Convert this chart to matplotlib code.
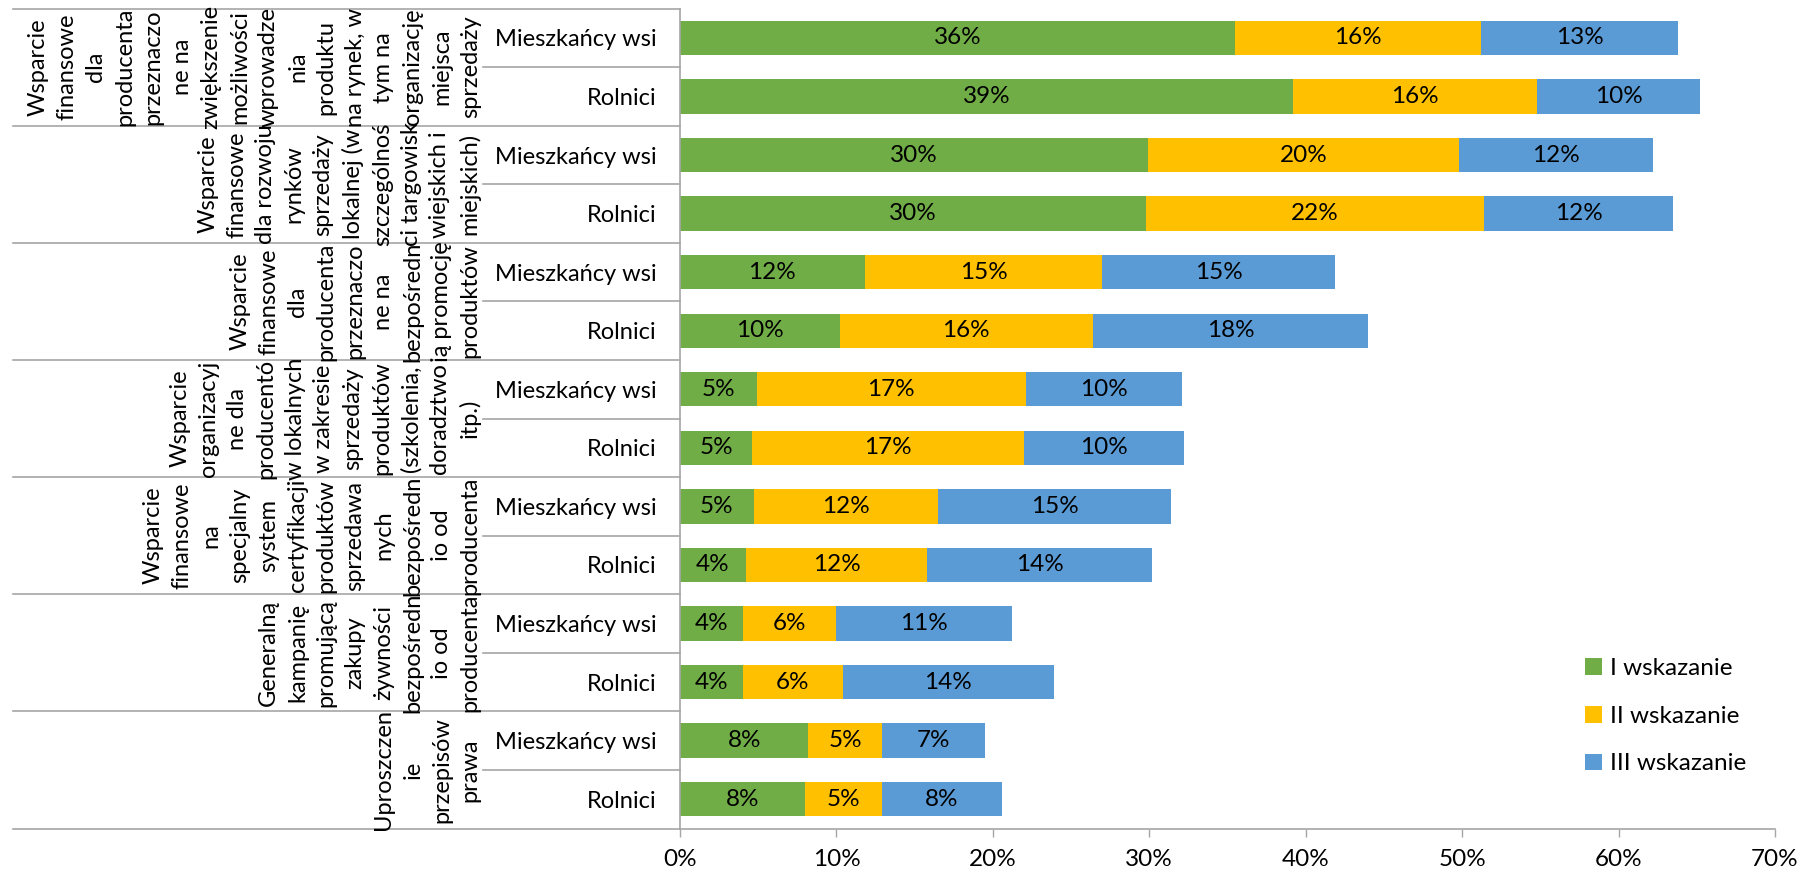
import numpy as np
import matplotlib.pyplot as plt
from matplotlib import transforms
from matplotlib.patches import Patch
from matplotlib.ticker import FuncFormatter

plt.rcParams['font.family'] = ['Lato', 'DejaVu Sans']

# measures (outer category, wrapped like in the original)
groups = [
    "Wsparcie\nfinansowe\ndla\nproducenta\nprzeznaczo\nne na\nzwiększenie\nmożliwości\nwprowadze\nnia\nproduktu\nna rynek, w\ntym na\norganizację\nmiejsca\nsprzedaży",
    "Wsparcie\nfinansowe\ndla rozwoju\nrynków\nsprzedaży\nlokalnej (w\nszczególnoś\nci targowisk\nwiejskich i\nmiejskich)",
    "Wsparcie\nfinansowe\ndla\nproducenta\nprzeznaczo\nne na\nbezpośredn\nią promocję\nproduktów",
    "Wsparcie\norganizacyj\nne dla\nproducentó\nw lokalnych\nw zakresie\nsprzedaży\nproduktów\n(szkolenia,\ndoradztwo\nitp.)",
    "Wsparcie\nfinansowe\nna\nspecjalny\nsystem\ncertyfikacji\nproduktów\nsprzedawa\nnych\nbezpośredn\nio od\nproducenta",
    "Generalną\nkampanię\npromującą\nzakupy\nżywności\nbezpośredn\nio od\nproducenta",
    "Uproszczen\nie\nprzepisów\nprawa",
]
respondents = ['Mieszkańcy wsi', 'Rolnici']
series = ['I wskazanie', 'II wskazanie', 'III wskazanie']
colors = ['#70AD47', '#FFC000', '#5B9BD5']

# rows: for each group -> Mieszkańcy wsi, Rolnici  (values in %)
first = [35.5, 39.2, 29.9, 29.8, 11.8, 10.2, 4.9, 4.6, 4.7, 4.2, 4.0, 4.0, 8.2, 8.0]
second = [15.7, 15.6, 19.9, 21.6, 15.2, 16.2, 17.2, 17.4, 11.8, 11.6, 6.0, 6.4, 4.7, 4.9]
third = [12.6, 10.4, 12.4, 12.1, 14.9, 17.6, 10.0, 10.2, 14.9, 14.4, 11.2, 13.5, 6.6, 7.7]

W, H = 1801, 873
fig = plt.figure(figsize=(W / 100, H / 100), dpi=100)
ax_l, ax_r, ax_t, ax_b = 680, 1775, 8.6, 828.5
ax = fig.add_axes([ax_l / W, 1 - ax_b / H, (ax_r - ax_l) / W, (ax_b - ax_t) / H])

rows = np.arange(len(first))
left = np.zeros(len(rows))
for vals, name, col in zip([first, second, third], series, colors):
    bars = ax.barh(rows, vals, left=left, height=0.587, color=col, label=name)
    ax.bar_label(bars, labels=[f'{v:.0f}%' for v in vals], label_type='center',
                 fontsize=17.5, color='black')
    left += np.array(vals)

ax.set_xlim(0, 70)
ax.set_ylim(len(rows) - 0.5, -0.5)
ax.set_xticks(np.arange(0, 71, 10))
ax.xaxis.set_major_formatter(FuncFormatter(lambda v, p: f'{v:.0f}%'))
ax.tick_params(axis='x', direction='out', length=5.8, width=1, color='#A6A6A6',
               labelsize=17.5, pad=9)
ax.set_yticks(rows, labels=respondents * len(groups))
ax.tick_params(axis='y', length=0, pad=17, labelsize=17)

for s in ['top', 'right']:
    ax.spines[s].set_visible(False)
for s in ['left', 'bottom']:
    ax.spines[s].set_color('#A6A6A6')
    ax.spines[s].set_linewidth(1.2)

# multi-level category axis: separators and rotated group labels
trans = transforms.blended_transform_factory(ax.transAxes, ax.transData)
outer_x = (13 - ax_l) / (ax_r - ax_l)
inner_x = (483 - ax_l) / (ax_r - ax_l)
for g, text in enumerate(groups):
    top = 2 * g - 0.5
    ax.plot([outer_x, 0], [top, top], color='#A6A6A6', lw=1.2, transform=trans, clip_on=False)
    ax.plot([inner_x, 0], [top + 1, top + 1], color='#A6A6A6', lw=1.2, transform=trans, clip_on=False)
    ax.text(inner_x - 0.002, top + 1, text, rotation=90, ha='right', va='center',
            multialignment='center', fontsize=17, linespacing=1.46, transform=trans)
ax.plot([outer_x, 0], [len(rows) - 0.5] * 2, color='#A6A6A6', lw=1.2, transform=trans, clip_on=False)

handles = [Patch(facecolor=c, edgecolor='none') for c in colors]
fig.legend(handles, series, loc='upper left', bbox_to_anchor=(1585 / W, 1 - 658 / H),
           frameon=False, fontsize=17.5, handlelength=0.68, handleheight=0.68,
           handletextpad=0.35, labelspacing=1.1, borderpad=0, borderaxespad=0)

plt.savefig('out.png', dpi=100)
